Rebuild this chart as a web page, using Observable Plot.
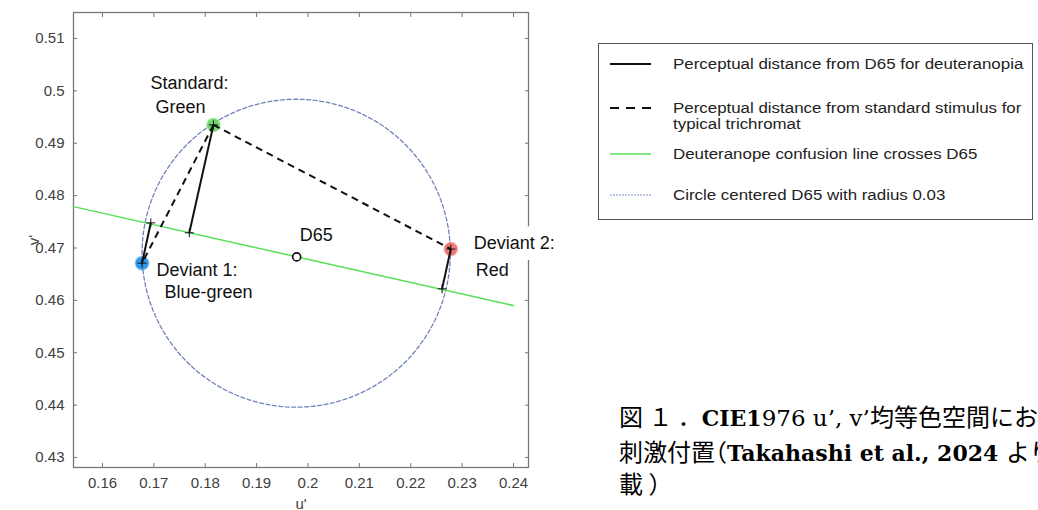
<!DOCTYPE html>
<html>
<head>
<meta charset="utf-8">
<script src="https://cdn.jsdelivr.net/npm/d3@7"></script>
<script src="https://cdn.jsdelivr.net/npm/@observablehq/plot@0.6"></script>
<style>
html,body{margin:0;padding:0;background:#fff;}
body{width:1038px;height:510px;overflow:hidden;position:relative;font-family:"Liberation Sans",Arial,sans-serif;}
#chart{position:absolute;left:0;top:0;}
#legend{position:absolute;left:598px;top:43px;width:435px;height:177px;box-sizing:border-box;border:1.5px solid #555;background:#fff;}
.row{position:absolute;left:0;width:100%;}
.row svg{position:absolute;left:11px;}
.row .t{position:absolute;left:74px;font-size:15.5px;line-height:16px;color:#222;white-space:nowrap;transform:scaleX(1.09);transform-origin:0 50%;}
#caption{position:absolute;left:619px;top:0;white-space:nowrap;color:#000;font-family:"DejaVu Serif","Noto Sans CJK JP",serif;font-size:23px;}
#caption .ln{position:absolute;left:0;height:32px;line-height:32px;}
#caption .cjk{font-family:"Noto Sans CJK JP",sans-serif;font-size:24px;}
#caption .half{font-feature-settings:"halt";}
#caption b{font-weight:bold;font-size:22px;}
</style>
</head>
<body>
<div id="chart"></div>
<div id="legend"></div>
<div id="caption">
<div class="ln" style="top:400px"><span class="cjk">図 １ ．</span><b>CIE1</b>976 u’, v’<span class="cjk">均等色空間における</span></div>
<div class="ln" style="top:435px"><span class="cjk">刺激付置</span><span class="cjk half">（</span><b>Takahashi et al., 2024 </b><span class="cjk">より転</span></div>
<div class="ln" style="top:467px"><span class="cjk">載 ）</span></div>
</div>
<script>
// ---- axes ----
const xDomain = [0.15436, 0.24292];
const yDomain = [0.42809, 0.51496];
const xTicks = [0.16, 0.17, 0.18, 0.19, 0.2, 0.21, 0.22, 0.23, 0.24];
const xTickLabels = ["0.16", "0.17", "0.18", "0.19", "0.2", "0.21", "0.22", "0.23", "0.24"];
const yTicks = [0.43, 0.44, 0.45, 0.46, 0.47, 0.48, 0.49, 0.5, 0.51];
const yTickLabels = ["0.43", "0.44", "0.45", "0.46", "0.47", "0.48", "0.49", "0.5", "0.51"];

// ---- stimuli ----
const stimulusNames = ["Standard", "Deviant 1", "Deviant 2"];
const stimulusU = [0.1816, 0.1677, 0.2278];
const stimulusV = [0.4935, 0.4671, 0.4698];
const stimulusColors = ["#63d663", "#1d8fe8", "#f06a6a"];
// feet of the deuteranopia distance segments on the confusion line
const footU = [0.1769, 0.1694, 0.2261];
const footV = [0.4729, 0.4748, 0.4622];
// D65 white point
const d65U = 0.1978;
const d65V = 0.4683;
// deuteranope confusion line through D65
const confusionU = [0.15436, 0.2400];
const confusionV = [0.4779, 0.4590];
// circle centred on D65 (radius 0.03, as drawn)
const circleCenterU = 0.1977;
const circleCenterV = 0.4690;
const circleRadiusU = 0.0300;
const circleRadiusV = 0.0294;

// point labels
const labelTexts = ["Standard:", "Green", "D65", "Deviant 1:", "Blue-green", "Deviant 2:", "Red"];
const labelAnchors = ["Standard", "Standard", "D65", "Deviant 1", "Deviant 1", "Deviant 2", "Deviant 2"];

// legend entries
const legendTexts = [
  "Perceptual distance from D65 for deuteranopia",
  "Perceptual distance from standard stimulus for<br>typical trichromat",
  "Deuteranope confusion line crosses D65",
  "Circle centered D65 with radius 0.03"
];

// ---- build tables ----
const stimuli = stimulusNames.map((n, i) => ({name: n, u: stimulusU[i], v: stimulusV[i], color: stimulusColors[i], fu: footU[i], fv: footV[i]}));
const pointOf = new Map(stimuli.map(s => [s.name, s]));
pointOf.set("D65", {u: d65U, v: d65V});
const confusion = confusionU.map((u, i) => ({u, v: confusionV[i]}));
const circle = d3.range(0, 361, 2).map(a => ({
  u: circleCenterU + circleRadiusU * Math.cos(a * Math.PI / 180),
  v: circleCenterV + circleRadiusV * Math.sin(a * Math.PI / 180)
}));
const std = pointOf.get("Standard");
const dashed = stimuli.slice(1).map(s => ({u1: std.u, v1: std.v, u2: s.u, v2: s.v}));
const ends = stimuli.flatMap(s => [{u: s.u, v: s.v}, {u: s.fu, v: s.fv}]);
const xLab = new Map(xTicks.map((t, i) => [t, xTickLabels[i]]));
const yLab = new Map(yTicks.map((t, i) => [t, yTickLabels[i]]));

// label offsets (pixels) — style, not data
const labelOffsets = [[-63, -42], [-58, -18], [3, -22], [14.5, 7], [22.5, 29], [23, -6], [25, 21.5]];
const labelMarks = labelTexts.map((t, i) => {
  const p = pointOf.get(labelAnchors[i]);
  const halo = t === "Deviant 2:";
  return Plot.text([{u: p.u, v: p.v, t}], {
    x: "u", y: "v", text: "t", dx: labelOffsets[i][0], dy: labelOffsets[i][1],
    textAnchor: "start", lineAnchor: "middle", fontSize: 18, fill: "#111",
    stroke: halo ? "white" : null, strokeWidth: halo ? 22 : null, paintOrder: "stroke"
  });
});

const axisCommon = {stroke: "#777", fill: "#404040", fontSize: 15};
const chart = Plot.plot({
  width: 580, height: 510,
  marginLeft: 73, marginRight: 52, marginTop: 12, marginBottom: 43,
  x: {domain: xDomain},
  y: {domain: yDomain},
  style: {fontFamily: "'Liberation Sans', Arial, sans-serif", fontSize: "15px", background: "white", overflow: "visible"},
  marks: [
    Plot.frame({stroke: "#777", strokeWidth: 1.3}),
    Plot.axisX(xTicks, {...axisCommon, anchor: "bottom", tickSize: -4, tickPadding: 14, tickFormat: d => xLab.get(d),
      label: "u'", labelAnchor: "center", labelArrow: "none", labelOffset: 41}),
    Plot.axisX(xTicks, {...axisCommon, anchor: "top", tickSize: -4, tickFormat: () => "", label: null}),
    Plot.axisY(yTicks, {...axisCommon, anchor: "left", tickSize: -4, tickPadding: 13, tickFormat: d => yLab.get(d),
      label: "v'", labelAnchor: "center", labelArrow: "none", labelOffset: 45}),
    Plot.axisY(yTicks, {...axisCommon, anchor: "right", tickSize: -4, tickFormat: () => "", label: null}),
    Plot.line(circle, {x: "u", y: "v", stroke: "#6f84b8", strokeWidth: 1.3, strokeDasharray: "4,2.5"}),
    Plot.line(confusion, {x: "u", y: "v", stroke: "#55e055", strokeWidth: 1.5}),
    Plot.dot(stimuli, {x: "u", y: "v", r: 6.5, fill: "color", fillOpacity: 0.9, stroke: "color", strokeOpacity: 0.35, strokeWidth: 2}),
    Plot.link(dashed, {x1: "u1", y1: "v1", x2: "u2", y2: "v2", stroke: "#111", strokeWidth: 2, strokeDasharray: "7,5"}),
    Plot.link(stimuli, {x1: "u", y1: "v", x2: "fu", y2: "fv", stroke: "#111", strokeWidth: 2}),
    Plot.dot(ends, {x: "u", y: "v", symbol: "plus", r: 3, stroke: "#111", strokeWidth: 1}),
    Plot.dot([{u: d65U, v: d65V}], {x: "u", y: "v", r: 4, stroke: "#111", strokeWidth: 1.6, fill: "white"}),
    ...labelMarks
  ]
});
document.getElementById("chart").appendChild(chart);

// ---- legend ----
const legendStyles = [
  {stroke: "#111", width: 2, dash: null},
  {stroke: "#111", width: 2, dash: "9,7"},
  {stroke: "#55e055", width: 1.3, dash: null},
  {stroke: "#7b8fc4", width: 1.2, dash: "2,1"}
];
const legendRowY = [20, 64, 110, 151];
const legend = document.getElementById("legend");
legendTexts.forEach((txt, i) => {
  const row = document.createElement("div");
  row.className = "row";
  row.style.top = (legendRowY[i] - 8) + "px";
  const s = legendStyles[i];
  row.innerHTML = `<svg width="44" height="16"><line x1="0" x2="41" y1="8" y2="8" stroke="${s.stroke}" stroke-width="${s.width}" ${s.dash ? `stroke-dasharray="${s.dash}"` : ""}/></svg><div class="t">${txt}</div>`;
  legend.appendChild(row);
});
</script>
</body>
</html>
